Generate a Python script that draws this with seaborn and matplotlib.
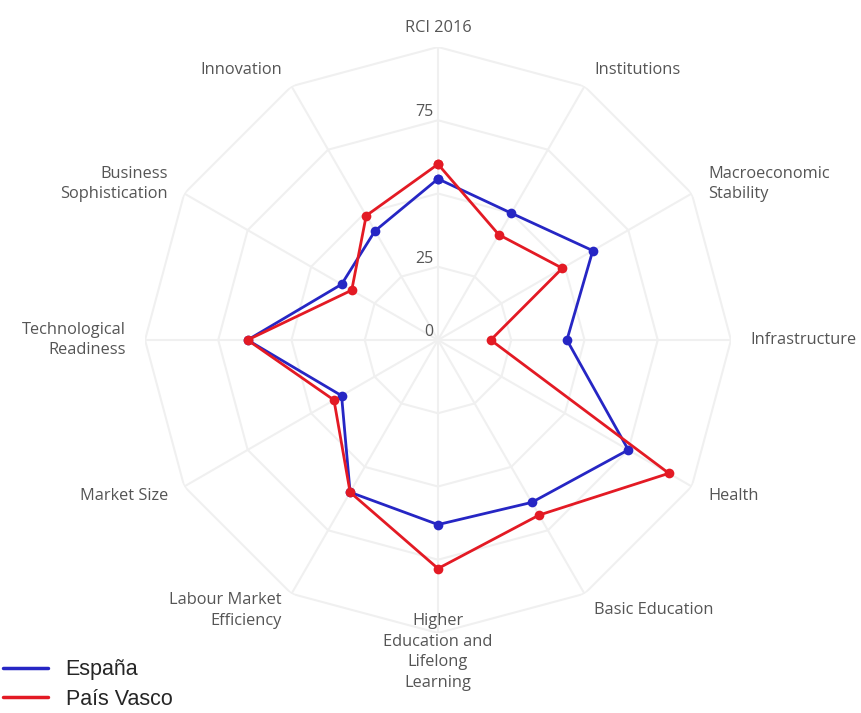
import numpy as np
import pandas as pd
import matplotlib
matplotlib.use("Agg")
import matplotlib.pyplot as plt
import matplotlib.transforms as mtransforms
from matplotlib.lines import Line2D
import seaborn as sns

# Radar axes (clockwise from the top)
categories = ["RCI 2016", "Institutions", "Macroeconomic\nStability", "Infrastructure",
              "Health", "Basic Education", "Higher\nEducation and\nLifelong\nLearning",
              "Labour Market\nEfficiency", "Market Size", "Technological\nReadiness",
              "Business\nSophistication", "Innovation"]
espana = [55, 50, 61, 44, 75, 64, 63, 60, 38, 65, 38, 43]
pais_vasco = [60, 41.5, 49, 18, 91, 69, 78, 60, 41, 65, 34, 49]
series_names = ["España", "País Vasco"]
radial_ticks = [0, 25, 75]   # "50" is not visible in the original
rings = [25, 50, 75, 100]

blue = "#2626c4"
red = "#e31a24"
grid_color = "#f0f0f0"
text_color = "#555555"

sns.set_theme(style="white")
plt.rcParams["font.family"] = ["Open Sans", "DejaVu Sans"]

n = len(categories)
angles = np.linspace(0, 2 * np.pi, n, endpoint=False)
closed = np.append(angles, angles[0])

fig = plt.figure(figsize=(8.62, 7.13), dpi=100)
ax = fig.add_axes([145 / 862, 80 / 713, 586 / 862, 586 / 713], projection="polar")
ax.set_theta_offset(np.pi / 2)
ax.set_theta_direction(-1)
ax.patch.set_alpha(0)

# polygon grid
for r in rings:
    ax.plot(closed, [r] * (n + 1), color=grid_color, lw=1.5, zorder=1)
for a in angles:
    ax.plot([a, a], [0, 100], color=grid_color, lw=1.5, zorder=1)

# radial tick labels along the top spoke
off = mtransforms.offset_copy(ax.transData, fig=fig, x=-3, y=0, units="points")
for t in radial_ticks:
    ax.text(0, t, str(t), transform=off, ha="right", va="bottom",
            color=text_color, fontsize=11.5, zorder=2)

df = pd.DataFrame({
    "theta": list(closed) * 2,
    "value": espana + [espana[0]] + pais_vasco + [pais_vasco[0]],
    "region": [series_names[0]] * (n + 1) + [series_names[1]] * (n + 1),
})
sns.lineplot(data=df, x="theta", y="value", hue="region",
             palette={series_names[0]: blue, series_names[1]: red},
             sort=False, estimator=None, marker="o", markersize=7,
             markeredgewidth=0, lw=2, legend=False, ax=ax, zorder=3)

ax.set_ylim(0, 100)
ax.grid(False)
ax.spines["polar"].set_visible(False)
ax.set_xticks([])
ax.set_yticks([])
ax.set_xlabel("")
ax.set_ylabel("")

# category labels
for a, lab in zip(angles, categories):
    s = np.sin(a)
    ha = "left" if s > 0.1 else ("right" if s < -0.1 else "center")
    ax.text(a, 106.5, lab, ha=ha, va="center", color=text_color,
            fontsize=11.8, linespacing=1.4)

handles = [Line2D([], [], color=blue, lw=2.5), Line2D([], [], color=red, lw=2.5)]
fig.legend(handles, series_names, loc="lower left", bbox_to_anchor=(0, 0),
           frameon=False, prop={"family": "Liberation Sans", "size": 15.5},
           handlelength=2.1, handletextpad=0.8, labelspacing=0.4,
           borderpad=0.15, borderaxespad=0)

fig.savefig("out.png", dpi=100)
